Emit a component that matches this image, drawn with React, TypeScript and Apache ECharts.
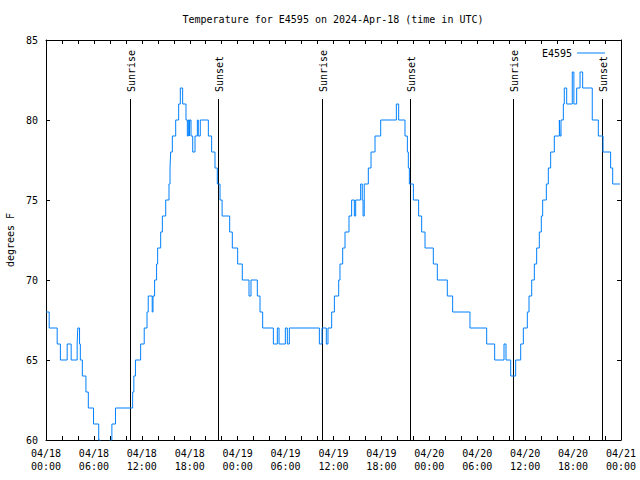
import React, { useEffect, useRef } from 'react';
import * as echarts from 'echarts';

// Hours after 2024-04-18 00:00 UTC at which each reading level begins
const HOURS = [
  0, 0.4, 1.4, 1.8, 2.65, 3.15, 3.9, 3.98, 4.2, 4.3, 4.55, 5.0, 5.3, 5.95, 6.6, 6.75,
  8.05, 8.25, 8.7, 10.85, 11.0, 11.2, 11.85, 12.3, 12.65, 12.8, 13.3, 13.4, 13.6, 13.85,
  13.98, 14.36, 14.57, 14.99, 15.4, 15.53, 15.61, 15.82, 16.24, 16.61, 16.82, 17.11, 17.53,
  17.7, 17.82, 17.95, 18.0, 18.16, 18.37, 18.66, 18.95, 19.07, 19.32, 20.33, 20.74, 21.16,
  21.45, 21.79, 22.05, 23.0, 23.33, 24.0, 24.58, 25.42, 25.67, 26.46, 26.8, 27.13, 28.47,
  28.97, 29.18, 29.97, 30.22, 30.47, 34.23, 34.56, 35.1, 35.31, 35.77, 36.11, 36.65, 36.81,
  37.15, 37.44, 37.94, 38.27, 38.61, 38.78, 39.4, 39.6, 39.7, 39.85, 40.36, 40.7, 41.2,
  41.91, 43.87, 44.16, 44.95, 45.25, 45.37, 45.5, 46.0, 46.66, 47.04, 47.46, 48.5, 49.0,
  50.25, 50.92, 53.09, 55.18, 56.18, 57.35, 57.6, 58.19, 58.81, 59.44, 59.77, 60.27, 60.48,
  60.82, 61.15, 61.44, 61.77, 62.02, 62.19, 62.65, 62.9, 63.19, 63.65, 64.28, 64.36, 64.49,
  64.78, 64.9, 65.2, 65.9, 66.1, 66.45, 66.87, 67.2, 68.4, 69.16, 69.75, 70.7, 70.96, 71.88,
];
// Temperature (degrees F) for each of the hours above
const TEMPS = [
  68, 67, 66, 65, 66, 65, 66, 67, 66, 65, 64, 63, 62, 61, 60, 59,
  60, 61, 62, 63, 64, 65, 66, 67, 68, 69, 68, 69, 70, 71,
  72, 73, 74, 75, 76, 77, 78, 79, 80, 81, 82, 81, 80,
  79, 80, 79, 80, 79, 78, 79, 80, 79, 80, 79, 78, 77,
  76, 75, 74, 73, 72, 71, 70, 69, 70, 69, 68, 67, 66,
  67, 66, 67, 66, 67, 66, 67, 66, 67, 68, 69, 70, 71,
  72, 73, 74, 75, 74, 75, 76, 75, 74, 76, 77, 78, 79,
  80, 81, 80, 79, 78, 77, 76, 75, 74, 73, 72, 71, 70,
  69, 68, 67, 66, 65, 66, 65, 64, 65, 66, 67, 68, 69,
  70, 71, 72, 73, 74, 75, 76, 77, 78, 79, 80, 79, 80,
  81, 82, 81, 83, 81, 82, 83, 82, 80, 79, 78, 77, 76, 76,
];

const SUN_HOURS = [10.58, 21.58, 34.55, 45.6, 58.52, 69.62];
const SUN_LABELS = ['Sunrise', 'Sunset', 'Sunrise', 'Sunset', 'Sunrise', 'Sunset'];

const X_TICK_LABELS = [
  '04/18\n00:00', '04/18\n06:00', '04/18\n12:00', '04/18\n18:00',
  '04/19\n00:00', '04/19\n06:00', '04/19\n12:00', '04/19\n18:00',
  '04/20\n00:00', '04/20\n06:00', '04/20\n12:00', '04/20\n18:00',
  '04/21\n00:00',
];
const X_MIN = 0;
const X_MAX = 72;
const X_STEP = 6;
const Y_MIN = 60;
const Y_MAX = 85;
const Y_STEP = 5;
const SUN_LINE_TOP = 81.3;

const TITLE = 'Temperature for E4595 on 2024-Apr-18 (time in UTC)';
const SERIES_NAME = 'E4595';
const Y_NAME = 'degrees F';

const FONT = '"DejaVu Sans Mono", "Liberation Mono", monospace';
const LINE_COLOR = '#0080ff';

export default function App() {
  const ref = useRef<HTMLDivElement>(null);

  useEffect(() => {
    const chart = echarts.init(ref.current!, null, { renderer: 'svg' });
    const points = HOURS.map((h, i) => [h, TEMPS[i]]);
    const axisCommon = {
      axisLine: { show: true, onZero: false, lineStyle: { color: '#000', width: 1 } },
      axisTick: { show: true, inside: true, length: 4, lineStyle: { color: '#000', width: 1 } },
      splitLine: { show: false },
    };
    chart.setOption({
      animation: false,
      backgroundColor: '#ffffff',
      textStyle: { fontFamily: FONT, fontSize: 10, color: '#000' },
      graphic: [
        {
          type: 'text',
          x: 333,
          y: 19,
          style: {
            text: TITLE,
            fontFamily: FONT,
            fontSize: 10,
            fill: '#000',
            align: 'center',
            verticalAlign: 'middle',
          },
        },
      ],
      legend: {
        data: [{ name: SERIES_NAME, icon: 'rect' }],
        right: 30,
        top: 43,
        align: 'right',
        itemWidth: 28,
        itemHeight: 1,
        itemStyle: { color: LINE_COLOR },
        textStyle: { fontFamily: FONT, fontSize: 10, color: '#000' },
      },
      grid: {
        left: 46,
        right: 19,
        top: 40,
        bottom: 40,
        containLabel: false,
        outerBoundsMode: 'none',
      },
      xAxis: [
        {
          type: 'value',
          position: 'bottom',
          min: X_MIN,
          max: X_MAX,
          interval: X_STEP,
          ...axisCommon,
          minorTick: { show: true, splitNumber: 3, length: 4, lineStyle: { color: '#000' } },
          minorSplitLine: { show: false },
          axisLabel: {
            formatter: (v: number) => X_TICK_LABELS[Math.round(v / X_STEP)] ?? '',
            fontFamily: FONT,
            fontSize: 10,
            color: '#000',
            lineHeight: 13,
            margin: 7,
          },
        },
        {
          type: 'value',
          position: 'top',
          min: X_MIN,
          max: X_MAX,
          interval: X_STEP,
          ...axisCommon,
          minorTick: { show: true, splitNumber: 3, length: 4, lineStyle: { color: '#000' } },
          minorSplitLine: { show: false },
          axisLabel: { show: false },
        },
      ],
      yAxis: [
        {
          type: 'value',
          position: 'left',
          min: Y_MIN,
          max: Y_MAX,
          interval: Y_STEP,
          ...axisCommon,
          name: Y_NAME,
          nameLocation: 'middle',
          nameRotate: 90,
          nameGap: 30,
          nameTextStyle: { fontFamily: FONT, fontSize: 10, color: '#000' },
          axisLabel: { fontFamily: FONT, fontSize: 10, color: '#000', margin: 8 },
        },
        {
          type: 'value',
          position: 'right',
          min: Y_MIN,
          max: Y_MAX,
          interval: Y_STEP,
          ...axisCommon,
          axisLabel: { show: false },
        },
      ],
      series: [
        {
          name: SERIES_NAME,
          type: 'line',
          xAxisIndex: 0,
          yAxisIndex: 0,
          data: points,
          step: 'end',
          symbol: 'none',
          showSymbol: false,
          clip: true,
          lineStyle: { color: LINE_COLOR, width: 1 },
          itemStyle: { color: LINE_COLOR },
          silent: true,
        },
        {
          name: 'sun',
          type: 'custom',
          xAxisIndex: 0,
          yAxisIndex: 0,
          silent: true,
          clip: false,
          data: SUN_HOURS.map((h, i) => [h, i]),
          renderItem: (_params: any, api: any) => {
            const h = api.value(0);
            const idx = api.value(1);
            const bottom = api.coord([h, Y_MIN]);
            const top = api.coord([h, SUN_LINE_TOP]);
            const x = Math.round(bottom[0]) + 0.5;
            return {
              type: 'group',
              children: [
                {
                  type: 'line',
                  shape: { x1: x, y1: bottom[1], x2: x, y2: Math.round(top[1]) },
                  style: { stroke: '#000', lineWidth: 1 },
                },
                {
                  type: 'text',
                  x: x + 1,
                  y: Math.round(top[1]) - 7,
                  rotation: Math.PI / 2,
                  style: {
                    text: SUN_LABELS[idx],
                    fontFamily: FONT,
                    fontSize: 10,
                    fill: '#000',
                    align: 'left',
                    verticalAlign: 'middle',
                  },
                },
              ],
            };
          },
        },
      ],
    });
    return () => {
      chart.dispose();
    };
  }, []);

  return (
    <div
      ref={ref}
      style={{ position: 'absolute', left: 0, top: 0, width: 640, height: 480, background: '#fff' }}
    />
  );
}
